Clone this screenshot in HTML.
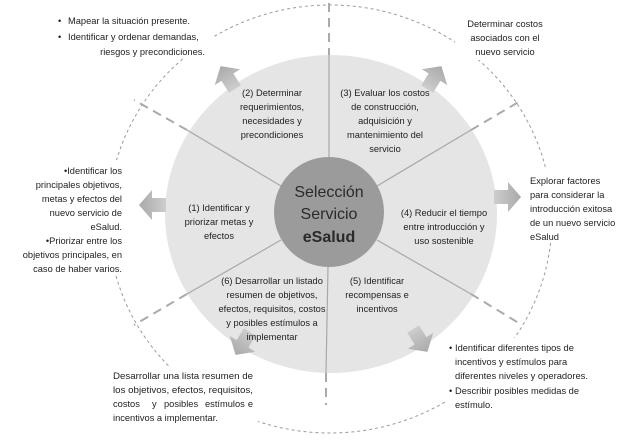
<!DOCTYPE html>
<html><head><meta charset="utf-8"><style>
html,body{margin:0;padding:0;background:#fff;}
svg{display:block;}
text{font-family:"Liberation Sans",sans-serif;font-size:9.3px;fill:#1e1e1e;}
.c{text-anchor:middle;}
.r{text-anchor:end;}
.big{font-size:16px;fill:#2a2a2a;}
</style></head><body>
<svg width="624" height="446" viewBox="0 0 624 446" xmlns="http://www.w3.org/2000/svg">
<defs>
<linearGradient id="ag" x1="0" y1="0" x2="1" y2="0">
<stop offset="0" stop-color="#cdcdcd"/><stop offset="1" stop-color="#a9a9a9"/>
</linearGradient>
<g id="arr"><polygon points="-13,-7 1,-7 1,-15 14,0 1,15 1,7 -13,7" fill="url(#ag)"/></g>
</defs>
<ellipse cx="330" cy="219" rx="222" ry="214" fill="none" stroke="#9a9a9a" stroke-width="1" stroke-dasharray="3,3"/>
<ellipse cx="331" cy="214" rx="166" ry="159" fill="#e5e5e5"/>
<g stroke="#aaa" stroke-width="2" stroke-dasharray="9,6" fill="none">
<line x1="329" y1="3" x2="329" y2="55"/>
<line x1="326" y1="373" x2="326" y2="405"/>
<line x1="187" y1="130" x2="134" y2="100"/>
<line x1="471" y1="130" x2="522" y2="100"/>
<line x1="187" y1="294" x2="134" y2="325"/>
<line x1="471" y1="294" x2="522" y2="325"/>
</g>
<g stroke="#a8a8a8" stroke-width="1.2">
<line x1="329" y1="55" x2="329" y2="158"/>
<line x1="328" y1="266" x2="326" y2="373"/>
<line x1="281" y1="186" x2="187" y2="130"/>
<line x1="377" y1="186" x2="471" y2="130"/>
<line x1="281" y1="240" x2="187" y2="294"/>
<line x1="377" y1="240" x2="471" y2="294"/>
</g>
<circle cx="329" cy="212" r="55" fill="#9b9b9b"/>
<text class="c big" x="329" y="197">Selección</text>
<text class="c big" x="329" y="219">Servicio</text>
<text class="c big" x="329" y="242" font-weight="bold" font-size="17">eSalud</text>
<use href="#arr" transform="translate(228,78) rotate(-122)"/>
<use href="#arr" transform="translate(434,78) rotate(-58)"/>
<use href="#arr" transform="translate(153,205) rotate(180)"/>
<use href="#arr" transform="translate(507,197)"/>
<use href="#arr" transform="translate(243,343) rotate(122)"/>
<use href="#arr" transform="translate(420,340) rotate(58)"/>
<text class="c" x="272" y="96">(2) Determinar</text>
<text class="c" x="272" y="110">requerimientos,</text>
<text class="c" x="272" y="124">necesidades y</text>
<text class="c" x="272" y="138">precondiciones</text>
<text class="c" x="385" y="96">(3) Evaluar los costos</text>
<text class="c" x="385" y="110">de construcción,</text>
<text class="c" x="385" y="124">adquisición y</text>
<text class="c" x="385" y="138">mantenimiento del</text>
<text class="c" x="385" y="152">servicio</text>
<text class="c" x="219" y="211">(1) Identificar y</text>
<text class="c" x="219" y="225">priorizar metas y</text>
<text class="c" x="219" y="239">efectos</text>
<text class="c" x="444" y="216">(4) Reducir el tiempo</text>
<text class="c" x="444" y="230">entre introducción y</text>
<text class="c" x="444" y="244">uso sostenible</text>
<text class="c" x="272" y="284">(6) Desarrollar un listado</text>
<text class="c" x="272" y="298">resumen de objetivos,</text>
<text class="c" x="272" y="312">efectos, requisitos, costos</text>
<text class="c" x="272" y="326">y posibles estímulos a</text>
<text class="c" x="272" y="340">implementar</text>
<text class="c" x="377" y="284">(5) Identificar</text>
<text class="c" x="377" y="298">recompensas e</text>
<text class="c" x="377" y="312">incentivos</text>

<rect x="52" y="10" width="160" height="48" fill="#fff"/>
<text x="58" y="24">•</text><text x="68" y="24">Mapear la situación presente.</text>
<text x="58" y="40">•</text><text x="68" y="40">Identificar y ordenar demandas,</text>
<text class="r" x="205" y="55">riesgos y precondiciones.</text>

<rect x="455" y="14" width="100" height="46" fill="#fff"/>
<text class="c" x="505" y="27">Determinar costos</text>
<text class="c" x="505" y="41">asociados con el</text>
<text class="c" x="505" y="55">nuevo servicio</text>

<rect x="15" y="160" width="112" height="114" fill="#fff"/>
<text class="r" x="122" y="174">•Identificar los</text>
<text class="r" x="122" y="188">principales objetivos,</text>
<text class="r" x="122" y="202">metas y efectos del</text>
<text class="r" x="122" y="216">nuevo servicio de</text>
<text class="r" x="122" y="230">eSalud.</text>
<text class="r" x="122" y="244">•Priorizar entre los</text>
<text class="r" x="122" y="258">objetivos principales, en</text>
<text class="r" x="122" y="272">caso de haber varios.</text>

<rect x="526" y="170" width="98" height="72" fill="#fff"/>
<text x="530" y="184">Explorar factores</text>
<text x="530" y="198">para considerar la</text>
<text x="530" y="212">introducción exitosa</text>
<text x="530" y="226">de un nuevo servicio</text>
<text x="530" y="240">eSalud</text>

<rect x="108" y="368" width="150" height="58" fill="#fff"/>
<text x="113" y="379" textLength="140" lengthAdjust="spacingAndGlyphs">Desarrollar una lista resumen de</text>
<text x="113" y="393" textLength="140" lengthAdjust="spacingAndGlyphs">los objetivos, efectos, requisitos,</text>
<text x="113" y="407">costos</text><text x="152" y="407">y</text><text x="164" y="407">posibles</text><text x="205" y="407">estímulos</text><text class="r" x="253" y="407">e</text>
<text x="113" y="421">incentivos a implementar.</text>

<rect x="446" y="338" width="148" height="72" fill="#fff"/>
<text x="449" y="351">•</text><text x="455" y="351">Identificar diferentes tipos de</text>
<text x="455" y="365">incentivos y estímulos para</text>
<text x="455" y="379" textLength="133" lengthAdjust="spacingAndGlyphs">diferentes niveles y operadores.</text>
<text x="449" y="394">•</text><text x="455" y="394">Describir posibles medidas de</text>
<text x="455" y="408">estímulo.</text>
</svg>
</body></html>
